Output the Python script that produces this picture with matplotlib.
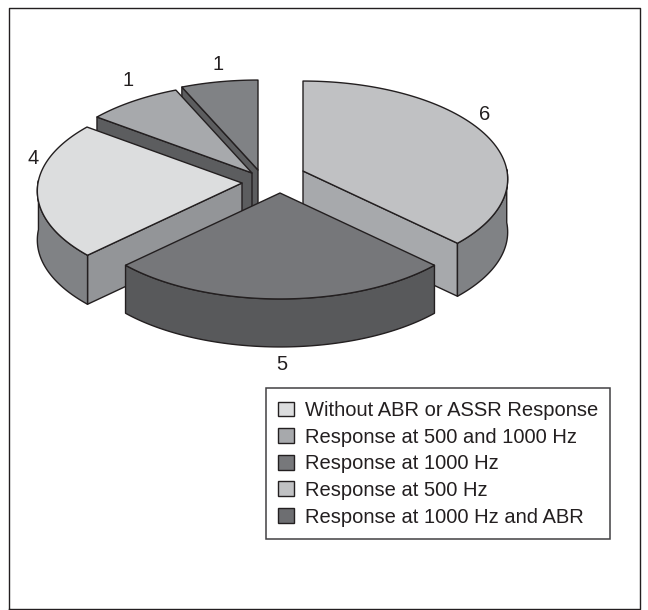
"""Exploded 3D-look pie chart of response categories, drawn with plain polygons."""

import numpy as np
import matplotlib
matplotlib.use("Agg")
import matplotlib.pyplot as plt
from matplotlib.patches import Polygon, Patch

plt.rcParams["font.family"] = ["Liberation Sans", "DejaVu Sans"]

categories = [
    "Without ABR or ASSR Response",
    "Response at 500 and 1000 Hz",
    "Response at 1000 Hz",
    "Response at 500 Hz",
    "Response at 1000 Hz and ABR",
]
counts = [4, 1, 1, 6, 5]

# style per slice, same order as categories
top_colors = ["#dcddde", "#a7a9ac", "#808285", "#c0c1c3", "#76777a"]
face_colors = ["#939598", "#5c5d5f", "#5c5d5f", "#a7a9ac", "#58595b"]
rim_colors = ["#808285", "#5c5d5f", "#5c5d5f", "#808285", "#58595b"]
legend_colors = ["#dcddde", "#a7a9ac", "#77787b", "#c0c1c3", "#6d6e71"]

# layout, in image pixels
apexes = [(242, 183), (252, 173), (258, 170), (303, 171), (280, 193)]
depths = [49, 50, 50, 53, 48]
label_pos = [(33, 158), (128, 80), (218, 64), (485, 115), (282, 364)]
A, B, K = 204.0, 97.3, 0.0816
INK = "#231f20"


def warp(theta):
    # the original's perspective skews the sweep, fitted by eye
    t = np.radians(theta)
    return theta + 18.5 * np.sin(t) + 4.6 * np.sin(2 * t) - 8.17 * np.sin(3 * t)


def project(theta, apex):
    t = np.radians(warp(np.asarray(theta, dtype=float)))
    w = 1 + K * np.cos(t)
    return np.column_stack([apex[0] + A * np.sin(t) / w, apex[1] - B * np.cos(t) / w])


def add_poly(ax, pts, color):
    ax.add_patch(Polygon(pts, closed=True, facecolor=color, edgecolor=INK,
                         linewidth=1.0, joinstyle="round"))


def draw_slice(ax, start, end, apex, depth, top, face, rim):
    arc = project(np.linspace(start, end, 120), apex)
    drop = np.array([0, depth])
    centre = np.array(apex, dtype=float)

    # radial side walls that look toward the viewer
    if np.sin(np.radians(start)) < -1e-6:
        wall = np.array([centre, arc[0], arc[0] + drop, centre + drop])
        add_poly(ax, wall, face)
    if np.sin(np.radians(end)) > 1e-6:
        wall = np.array([centre, arc[-1], arc[-1] + drop, centre + drop])
        add_poly(ax, wall, face)

    # outer rim, front half only
    theta = np.linspace(start, end, 120)
    front = arc[np.cos(np.radians(warp(theta))) < 0.03]
    if len(front) > 1:
        add_poly(ax, np.vstack([front, (front + drop)[::-1]]), rim)

    add_poly(ax, np.vstack([centre, arc]), top)


fig = plt.figure(figsize=(6.48, 6.10), dpi=100)
ax = fig.add_axes([0, 0, 1, 1])
ax.set_xlim(0, 648)
ax.set_ylim(610, 0)
ax.axis("off")

# outer frame
ax.plot([9, 9, 640, 640, 9], [609, 8, 8, 609, 609], color=INK, linewidth=1.0)

# cumulative sweep, "Response at 500 Hz" begins at twelve o'clock
sweep = 360.0 * np.array(counts) / sum(counts)
first = 360.0 - sweep[:3].sum()
starts = first + np.concatenate([[0], np.cumsum(sweep)[:-1]])
ends = starts + sweep

# back to front
for i in [2, 1, 0, 3, 4]:
    s = starts[i] if starts[i] < 360 else starts[i] - 360
    draw_slice(ax, s, s + sweep[i], apexes[i], depths[i],
               top_colors[i], face_colors[i], rim_colors[i])

for n, (x, y) in zip(counts, label_pos):
    ax.text(x, y, str(n), ha="center", va="center", fontsize=14.5, color=INK)

handles = [Patch(facecolor=c, edgecolor=INK, linewidth=1.0) for c in legend_colors]
leg = ax.legend(handles, categories, loc="lower left", bbox_to_anchor=(266, 539),
                bbox_transform=ax.transData, borderaxespad=0, fontsize=14.5,
                handlelength=0.75, handleheight=0.75, handletextpad=0.55,
                labelspacing=0.38, borderpad=0.62, fancybox=False, framealpha=1,
                edgecolor="#414042", labelcolor=INK)
leg.get_frame().set_linewidth(1.1)

fig.savefig("out.png", dpi=100)
